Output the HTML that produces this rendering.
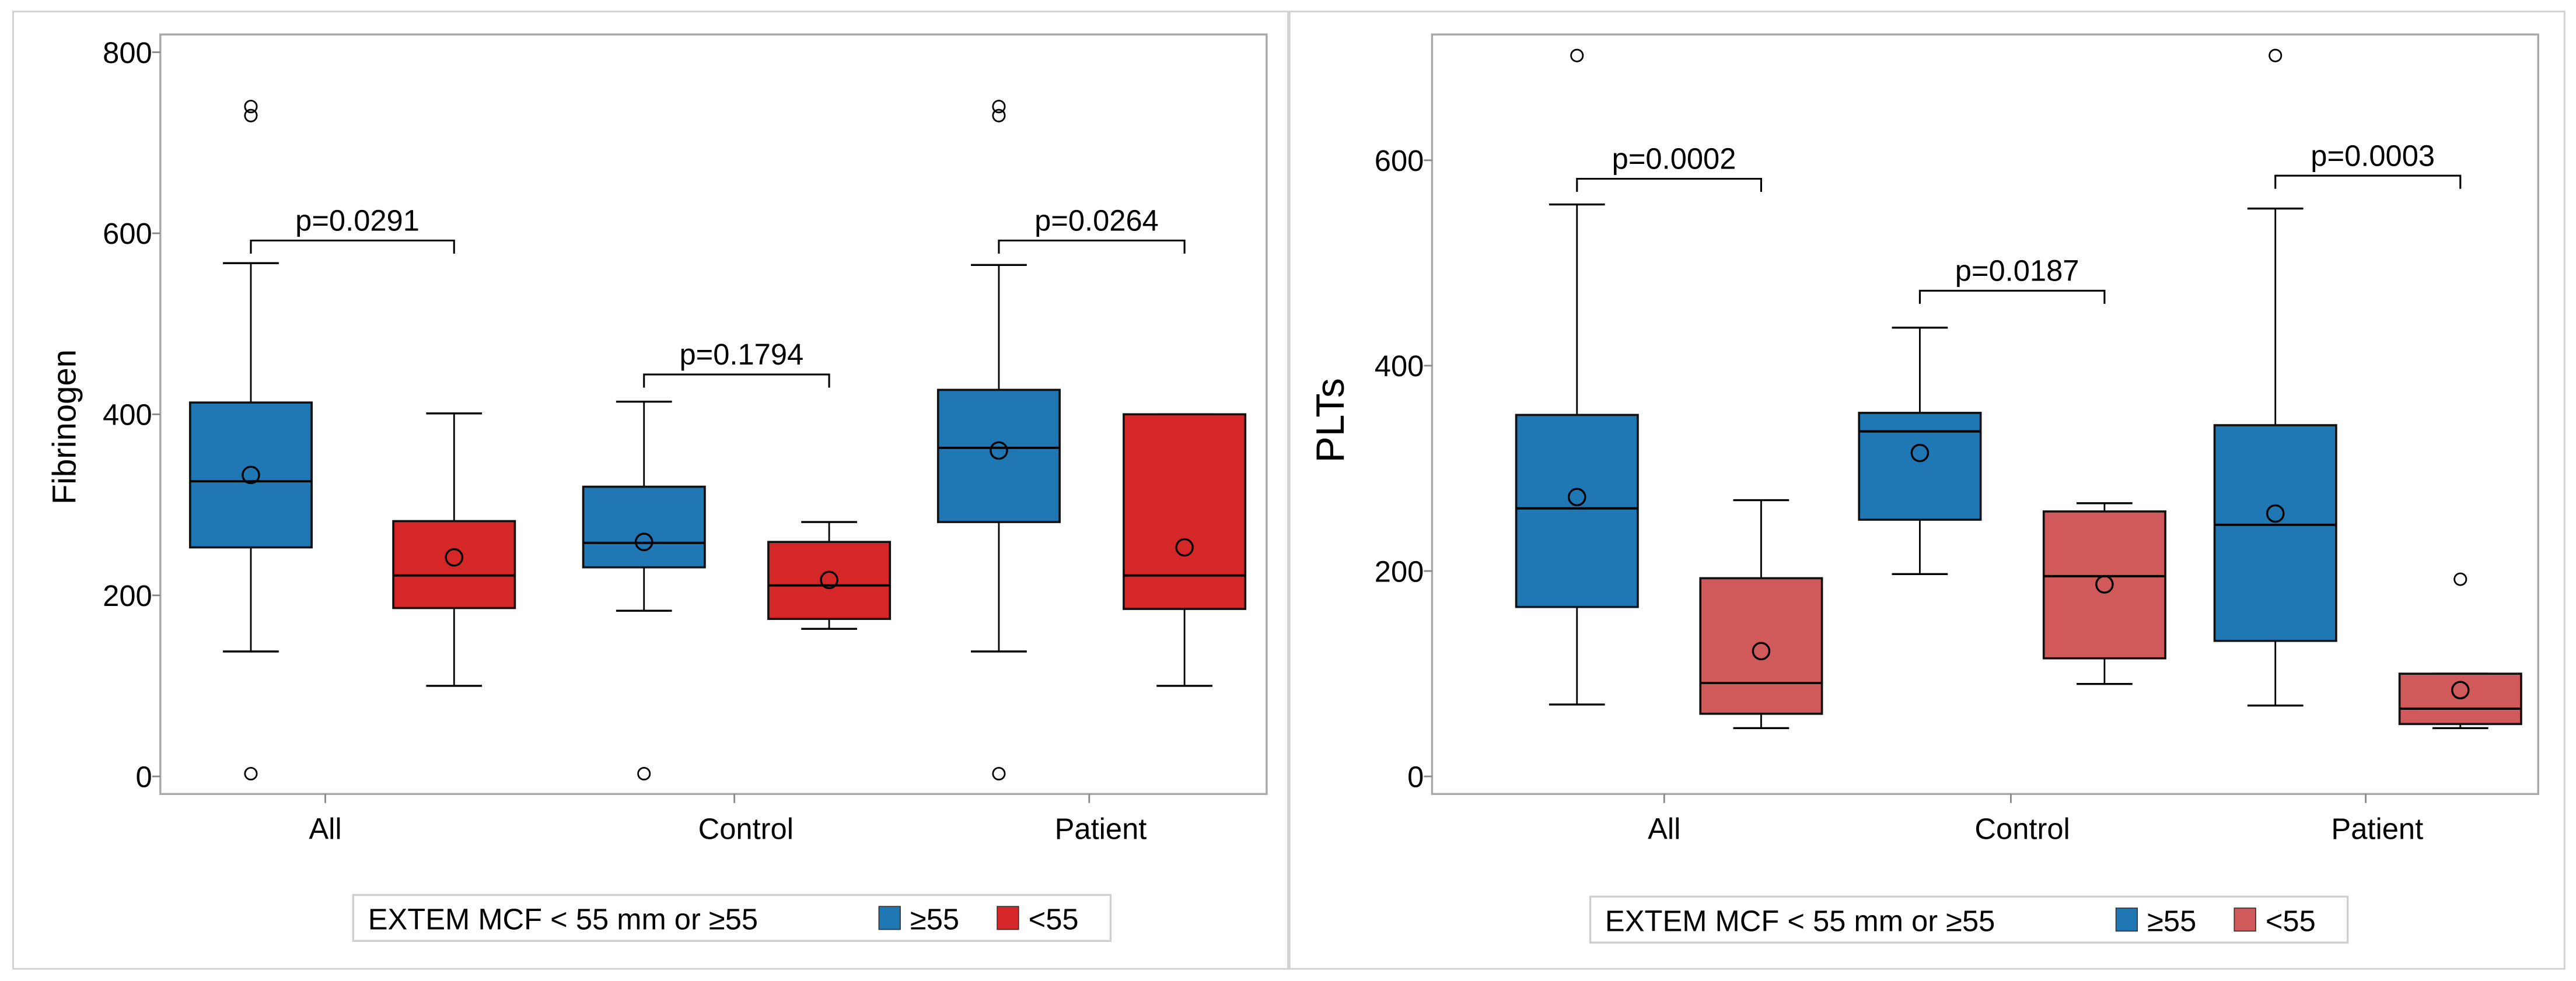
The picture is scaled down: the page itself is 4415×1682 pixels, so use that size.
<!DOCTYPE html>
<html><head><meta charset="utf-8"><style>
html,body{margin:0;padding:0;background:#fff;}
svg{display:block;font-family:"Liberation Sans",sans-serif;}
</style></head><body>
<svg id="chart" width="4415" height="1682" viewBox="0 0 1568 597.4" preserveAspectRatio="none" xmlns="http://www.w3.org/2000/svg">
<rect x="8" y="7" width="776" height="583" fill="#fff" stroke="#d0d0d0" stroke-width="1"/>
<rect x="785" y="7" width="776" height="583" fill="#fff" stroke="#d0d0d0" stroke-width="1"/>
</svg>
<script>
const categories = ["All","Control","Patient"];
const groups = ["≥55","<55"];
// left chart: Fibrinogen  [whiskerLow, q1, median, q3, whiskerHigh, mean]
const fibStats = [
  [138,253,326,413,567,333],[100,186,222,282,401,242],
  [183,231,258,320,414,259],[163,174,211,259,281,217],
  [138,281,363,427,565,360],[100,185,222,400,400,253]
];
const fibOutliers = [[3,730,740],[],[3],[],[3,730,740],[]];
const fibPvals = ["p=0.0291","p=0.1794","p=0.0264"];
const fibBracket = [592,444,592];
const fibTicks = [0,200,400,600,800];
// right chart: PLTs
const pltStats = [
  [70,165,261,352,557,272],[47,61,91,193,269,122],
  [197,250,336,354,437,315],[90,115,195,258,266,187],
  [69,132,245,342,553,256],[47,51,66,100,100,84]
];
const pltOutliers = [[702],[],[],[],[702],[192]];
const pltPvals = ["p=0.0002","p=0.0187","p=0.0003"];
const pltBracket = [582,473,585];
const pltTicks = [0,200,400,600];

const NS="http://www.w3.org/2000/svg";
const svg=document.getElementById('chart');
function mk(tag,attrs,parent){const e=document.createElementNS(NS,tag);for(const k in attrs)e.setAttribute(k,attrs[k]);(parent||svg).appendChild(e);return e;}

function drawChart(cfg){
  const g=mk('g',{});
  
  
  const yS=v=>cfg.y0+(v-0)*(cfg.y1-cfg.y0)/cfg.v1;
  const f=mk('rect',{x:cfg.fx0,y:21,width:cfg.fx1-cfg.fx0,height:462.5,fill:'none',stroke:'#a8a8a8','stroke-width':1.2},g);
  
  
  cfg.ticks.forEach(t=>{
    const y=yS(t);
    mk('line',{x1:cfg.fx0-5,x2:cfg.fx0,y1:y,y2:y,stroke:'#888','stroke-width':1},g);
    const tx=mk('text',{x:cfg.fx0-5,y:y+6.5,'text-anchor':'end','font-size':18,fill:'#000'},g);
    tx.textContent=t;
    
    
  });
  const yt=mk('text',{transform:`translate(${cfg.ytx},${cfg.yty}) rotate(-90)`,'text-anchor':'middle','font-size':cfg.ytsize,'font-weight':cfg.ytw,fill:'#000'},g);
  yt.textContent=cfg.ytitle;
  
  
  categories.forEach((c,i)=>{
    const x=cfg.catX[i];
    mk('line',{x1:x,x2:x,y1:483.5,y2:489,stroke:'#888','stroke-width':1},g);
    const t=mk('text',{x:x+cfg.catOff[i],y:511,'text-anchor':'middle','font-size':18,fill:'#000'},g);
    t.textContent=c;
    
    
  });
  cfg.stats.forEach((s,k)=>{
    const cx=cfg.boxX[k];const col=cfg.colors[k%2];
    const bg=mk('g',{},g);
    
    
    const [lo,q1,md,q3,hi,mn]=s;
    mk('line',{x1:cx,x2:cx,y1:yS(hi),y2:yS(q3),stroke:'#000','stroke-width':1},bg);
    mk('line',{x1:cx,x2:cx,y1:yS(q1),y2:yS(lo),stroke:'#000','stroke-width':1},bg);
    mk('line',{x1:cx-17,x2:cx+17,y1:yS(hi),y2:yS(hi),stroke:'#000','stroke-width':1.2},bg);
    mk('line',{x1:cx-17,x2:cx+17,y1:yS(lo),y2:yS(lo),stroke:'#000','stroke-width':1.2},bg);
    mk('rect',{x:cx-37,y:yS(q3),width:74,height:yS(q1)-yS(q3),fill:col,stroke:'#111','stroke-width':1.3},bg);
    mk('line',{x1:cx-37,x2:cx+37,y1:yS(md),y2:yS(md),stroke:'#000','stroke-width':1.4},bg);
    mk('circle',{cx:cx,cy:yS(mn),r:5,fill:'none',stroke:'#000','stroke-width':1.2},bg);
    cfg.outliers[k].forEach(o=>{
      const c=mk('circle',{cx:cx,cy:yS(o),r:3.6,fill:'none',stroke:'#000','stroke-width':1},bg);
      
      
    });
  });
  cfg.pvals.forEach((p,i)=>{
    const xa=cfg.boxX[2*i],xb=cfg.boxX[2*i+1];const y=yS(cfg.bracket[i]);
    const br=mk('path',{d:`M${xa},${y+8}V${y}H${xb}V${y+8}`,fill:'none',stroke:'#000','stroke-width':1.1},g);
    
    
    const t=mk('text',{x:(xa+xb)/2+3,y:y-6,'text-anchor':'middle','font-size':18,fill:'#000'},g);
    t.textContent=p;
    
    
  });
  const L=cfg.leg;
  const lg=mk('g',{},g);
  
  
  mk('rect',{x:L.x,y:L.y,width:L.w,height:28,fill:'#fff',stroke:'#cfcfcf','stroke-width':1.2},lg);
  const lt=mk('text',{x:L.x+9,y:L.y+21,'font-size':18,fill:'#000'},lg);
  lt.textContent='EXTEM MCF < 55 mm or ≥55';
  groups.forEach((gr,j)=>{
    const sx=L.x+L.s[j];
    const sw=mk('rect',{x:sx,y:L.y+7,width:13,height:14,fill:cfg.colors[j],stroke:'#333','stroke-width':0.6},lg);
    
    
    const t=mk('text',{x:sx+19,y:L.y+21,'font-size':18,fill:'#000'},lg);
    t.textContent=gr;
    
    
  });
}
drawChart({name:'fibrinogen-chart',fx0:97.6,fx1:771,y0:472.8,y1:31.8,v1:800,ticks:fibTicks,
  ytitle:'Fibrinogen',ytsize:20,ytw:'normal',ytx:46,yty:260,catX:[198,447,663],catOff:[0,7,7],
  boxX:[152.7,276.4,392,504.7,608,721],colors:['#1f77b4','#d62728'],
  stats:fibStats,outliers:fibOutliers,pvals:fibPvals,bracket:fibBracket,
  leg:{x:215,y:545,w:461,s:[320,392]}});
drawChart({name:'plts-chart',fx0:871.7,fx1:1545,y0:472.8,y1:97.6,v1:600,ticks:pltTicks,
  ytitle:'PLTs',ytsize:24,ytw:'normal',ytx:818,yty:256,catX:[1013,1224,1440],catOff:[0,7,7],
  boxX:[959.9,1072,1168.6,1281,1385,1497.6],colors:['#1f77b4','#d05a5a'],
  stats:pltStats,outliers:pltOutliers,pvals:pltPvals,bracket:pltBracket,
  leg:{x:968,y:546,w:461,s:[320,392]}});
</script>
</body></html>
